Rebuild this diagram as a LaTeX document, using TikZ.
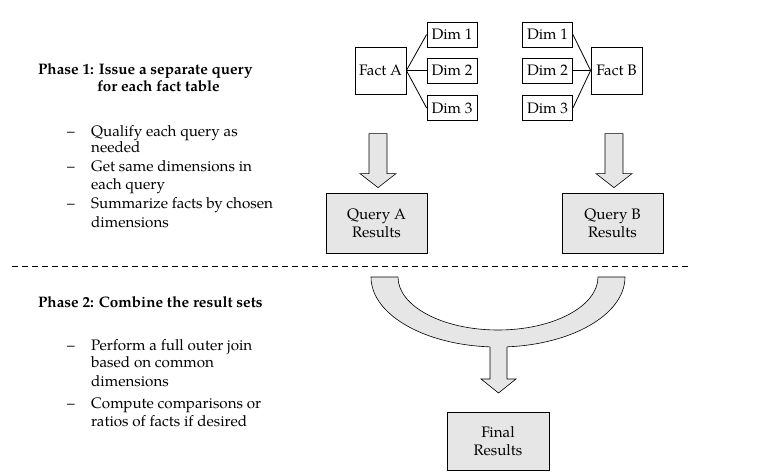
\documentclass[tikz,border=0pt]{standalone}
\usepackage{fontspec}
\setmainfont{TeX Gyre Pagella}
\usetikzlibrary{calc}
\definecolor{boxgray}{RGB}{230,230,230}
\begin{document}
\begin{tikzpicture}[x=1pt,y=1pt,
  font=\fontsize{15.2}{18}\selectfont,
  box/.style={draw, line width=0.8pt, inner sep=0pt, align=center},
  dimbox/.style={box, minimum width=50pt, minimum height=25pt},
  factbox/.style={box, minimum width=51pt, minimum height=47pt},
  resbox/.style={box, fill=boxgray, minimum width=101pt, minimum height=60pt},
  link/.style={line width=0.8pt},
  blockarrow/.style={draw, fill=boxgray, line width=0.6pt, line join=miter},
  txt/.style={anchor=base west, inner sep=0pt},
  head/.style={txt, font=\fontsize{15.2}{18}\selectfont\bfseries},
]
\useasboundingbox (0,0) rectangle (757,-476);

% Fact tables and dimensions
\node[factbox] (fa) at (380.5,-70.5) {Fact A};
\node[dimbox] (a1) at (452,-34.5) {Dim 1};
\node[dimbox] (a2) at (452,-70.5) {Dim 2};
\node[dimbox] (a3) at (452,-108) {Dim 3};
\node[factbox] (fb) at (616.5,-70.5) {Fact B};
\node[dimbox] (b1) at (547.5,-34.5) {Dim 1};
\node[dimbox] (b2) at (547.5,-70.5) {Dim 2};
\node[dimbox] (b3) at (547.5,-108) {Dim 3};
\foreach \d in {a1,a2,a3} \draw[link] (fa.east) -- (\d.west);
\foreach \d in {b1,b2,b3} \draw[link] (fb.west) -- (\d.east);

% Result boxes
\node[resbox] (qa) at (376.5,-223) {Query A\\Results};
\node[resbox] (qb) at (612.5,-223) {Query B\\Results};
\node[resbox, minimum width=102pt, minimum height=58pt] (fin) at (498,-441) {Final\\Results};

% Block arrows phase 1
\foreach \q in {qa,qb} {
  \draw[blockarrow] ($(\q.north)+(1.5,5)$) coordinate (tip)
    -- ++(18,14) -- ++(-9,0) -- ++(0,40) -- ++(-18,0) -- ++(0,-40) -- ++(-9,0) -- cycle;
}

% Dashed separator
\coordinate (dl) at (12,-266);
\coordinate (dr) at (690,-266);
\draw[line width=0.6pt, dash pattern=on 6pt off 4pt] (dl) -- (dr);

% Combining arrow
\draw[blockarrow] (371,-277) arc[start angle=180, end angle=360, x radius=127, y radius=70]
  -- (598,-277) arc[start angle=0, end angle=-180, x radius=100, y radius=53] -- cycle;
\fill[boxgray] (490,-338) -- (490,-379) -- (481,-379) -- (498.5,-393) -- (516,-379)
  -- (507,-379) -- (507,-338) -- cycle;
\draw[line width=0.6pt, line join=miter] (490,-346.8) -- (490,-379) -- (481,-379)
  -- (498.5,-393) -- (516,-379) -- (507,-379) -- (507,-346.8);

% Phase 1 text
\node[head] (p1a) at (38,-75) {Phase 1: Issue a separate query};
\node[head] (p1b) at (97,-92) {for each fact table};
\node[txt] (d1) at (67,-136) {--};
\node[txt] (t1a) at (91,-136) {Qualify each query as};
\node[txt] (t1b) at (91,-152) {needed};
\node[txt] (d2) at (67,-171) {--};
\node[txt] (t2a) at (91,-171) {Get same dimensions in};
\node[txt] (t2b) at (91,-189) {each query};
\node[txt] (d3) at (67,-208) {--};
\node[txt] (t3a) at (91,-208) {Summarize facts by chosen};
\node[txt] (t3b) at (91,-227) {dimensions};

% Phase 2 text
\node[head] (p2) at (38,-307) {Phase 2: Combine the result sets};
\node[txt] (d4) at (67,-350) {--};
\node[txt] (t4a) at (91,-350) {Perform a full outer join};
\node[txt] (t4b) at (91,-367) {based on common};
\node[txt] (t4c) at (91,-386) {dimensions};
\node[txt] (d5) at (67,-408) {--};
\node[txt] (t5a) at (91,-408) {Compute comparisons or};
\node[txt] (t5b) at (91,-426) {ratios of facts if desired};
\end{tikzpicture}
\end{document}
